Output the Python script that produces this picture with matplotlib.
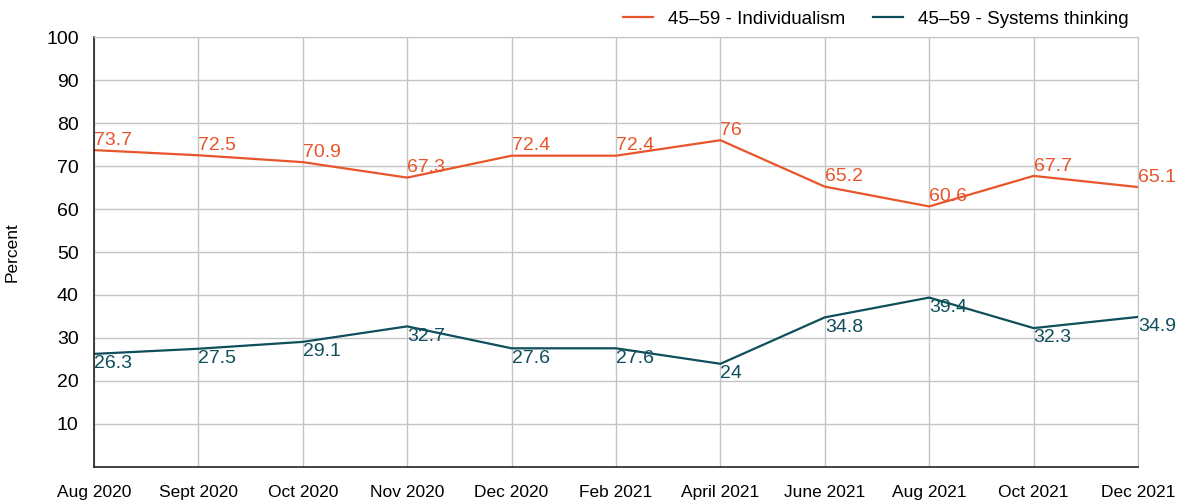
import matplotlib
matplotlib.use("Agg")
import matplotlib.pyplot as plt

plt.rcParams["font.family"] = ["Liberation Sans", "DejaVu Sans"]

# 数据
months = ["Aug 2020", "Sept 2020", "Oct 2020", "Nov 2020", "Dec 2020", "Feb 2021",
          "April 2021", "June 2021", "Aug 2021", "Oct 2021", "Dec 2021"]
individualism = [73.7, 72.5, 70.9, 67.3, 72.4, 72.4, 76, 65.2, 60.6, 67.7, 65.1]
systems = [26.3, 27.5, 29.1, 32.7, 27.6, 27.6, 24, 34.8, 39.4, 32.3, 34.9]

ORANGE = "#E8552B"
TEAL = "#0F4E5B"
GRID = "#C4C4C4"

fig = plt.figure(figsize=(11.82, 5.03), dpi=100)
ax = fig.add_axes([0.0795, 0.0716, 0.8833, 0.8548])

x = list(range(len(months)))
ax.plot(x, individualism, color=ORANGE, linewidth=1.6, label="45–59 - Individualism")
ax.plot(x, systems, color=TEAL, linewidth=1.6, label="45–59 - Systems thinking")

# 数据标签
for xi, v in zip(x, individualism):
    ax.annotate(f"{v:g}", (xi, v), xytext=(0, 1), textcoords="offset points",
                ha="left", va="bottom", color=ORANGE, fontsize=14)
for xi, v in zip(x, systems):
    ax.annotate(f"{v:g}", (xi, v), xytext=(0, -1), textcoords="offset points",
                ha="left", va="top", color=TEAL, fontsize=14)

ax.set_xlim(0, len(months) - 1)
ax.set_ylim(0, 100)
ax.set_yticks(range(10, 101, 10))
ax.set_xticks(x)
ax.set_xticklabels(months, fontsize=12.5)
ax.tick_params(axis="y", labelsize=14, length=0, pad=11)
ax.tick_params(axis="x", length=0, pad=13)
ax.set_ylabel("Percent", fontsize=12.5, labelpad=19)

ax.grid(True, color=GRID, linewidth=1)
ax.set_axisbelow(True)
for side in ("top", "right"):
    ax.spines[side].set_color(GRID)
for side in ("left", "bottom"):
    ax.spines[side].set_color("#222222")
    ax.spines[side].set_linewidth(1.2)

ax.legend(loc="lower right", bbox_to_anchor=(1.0, 1.0), ncol=2, frameon=False,
          fontsize=13.5, handlelength=1.6, columnspacing=1.5, borderaxespad=0.1)

fig.savefig("out.png", dpi=100)
